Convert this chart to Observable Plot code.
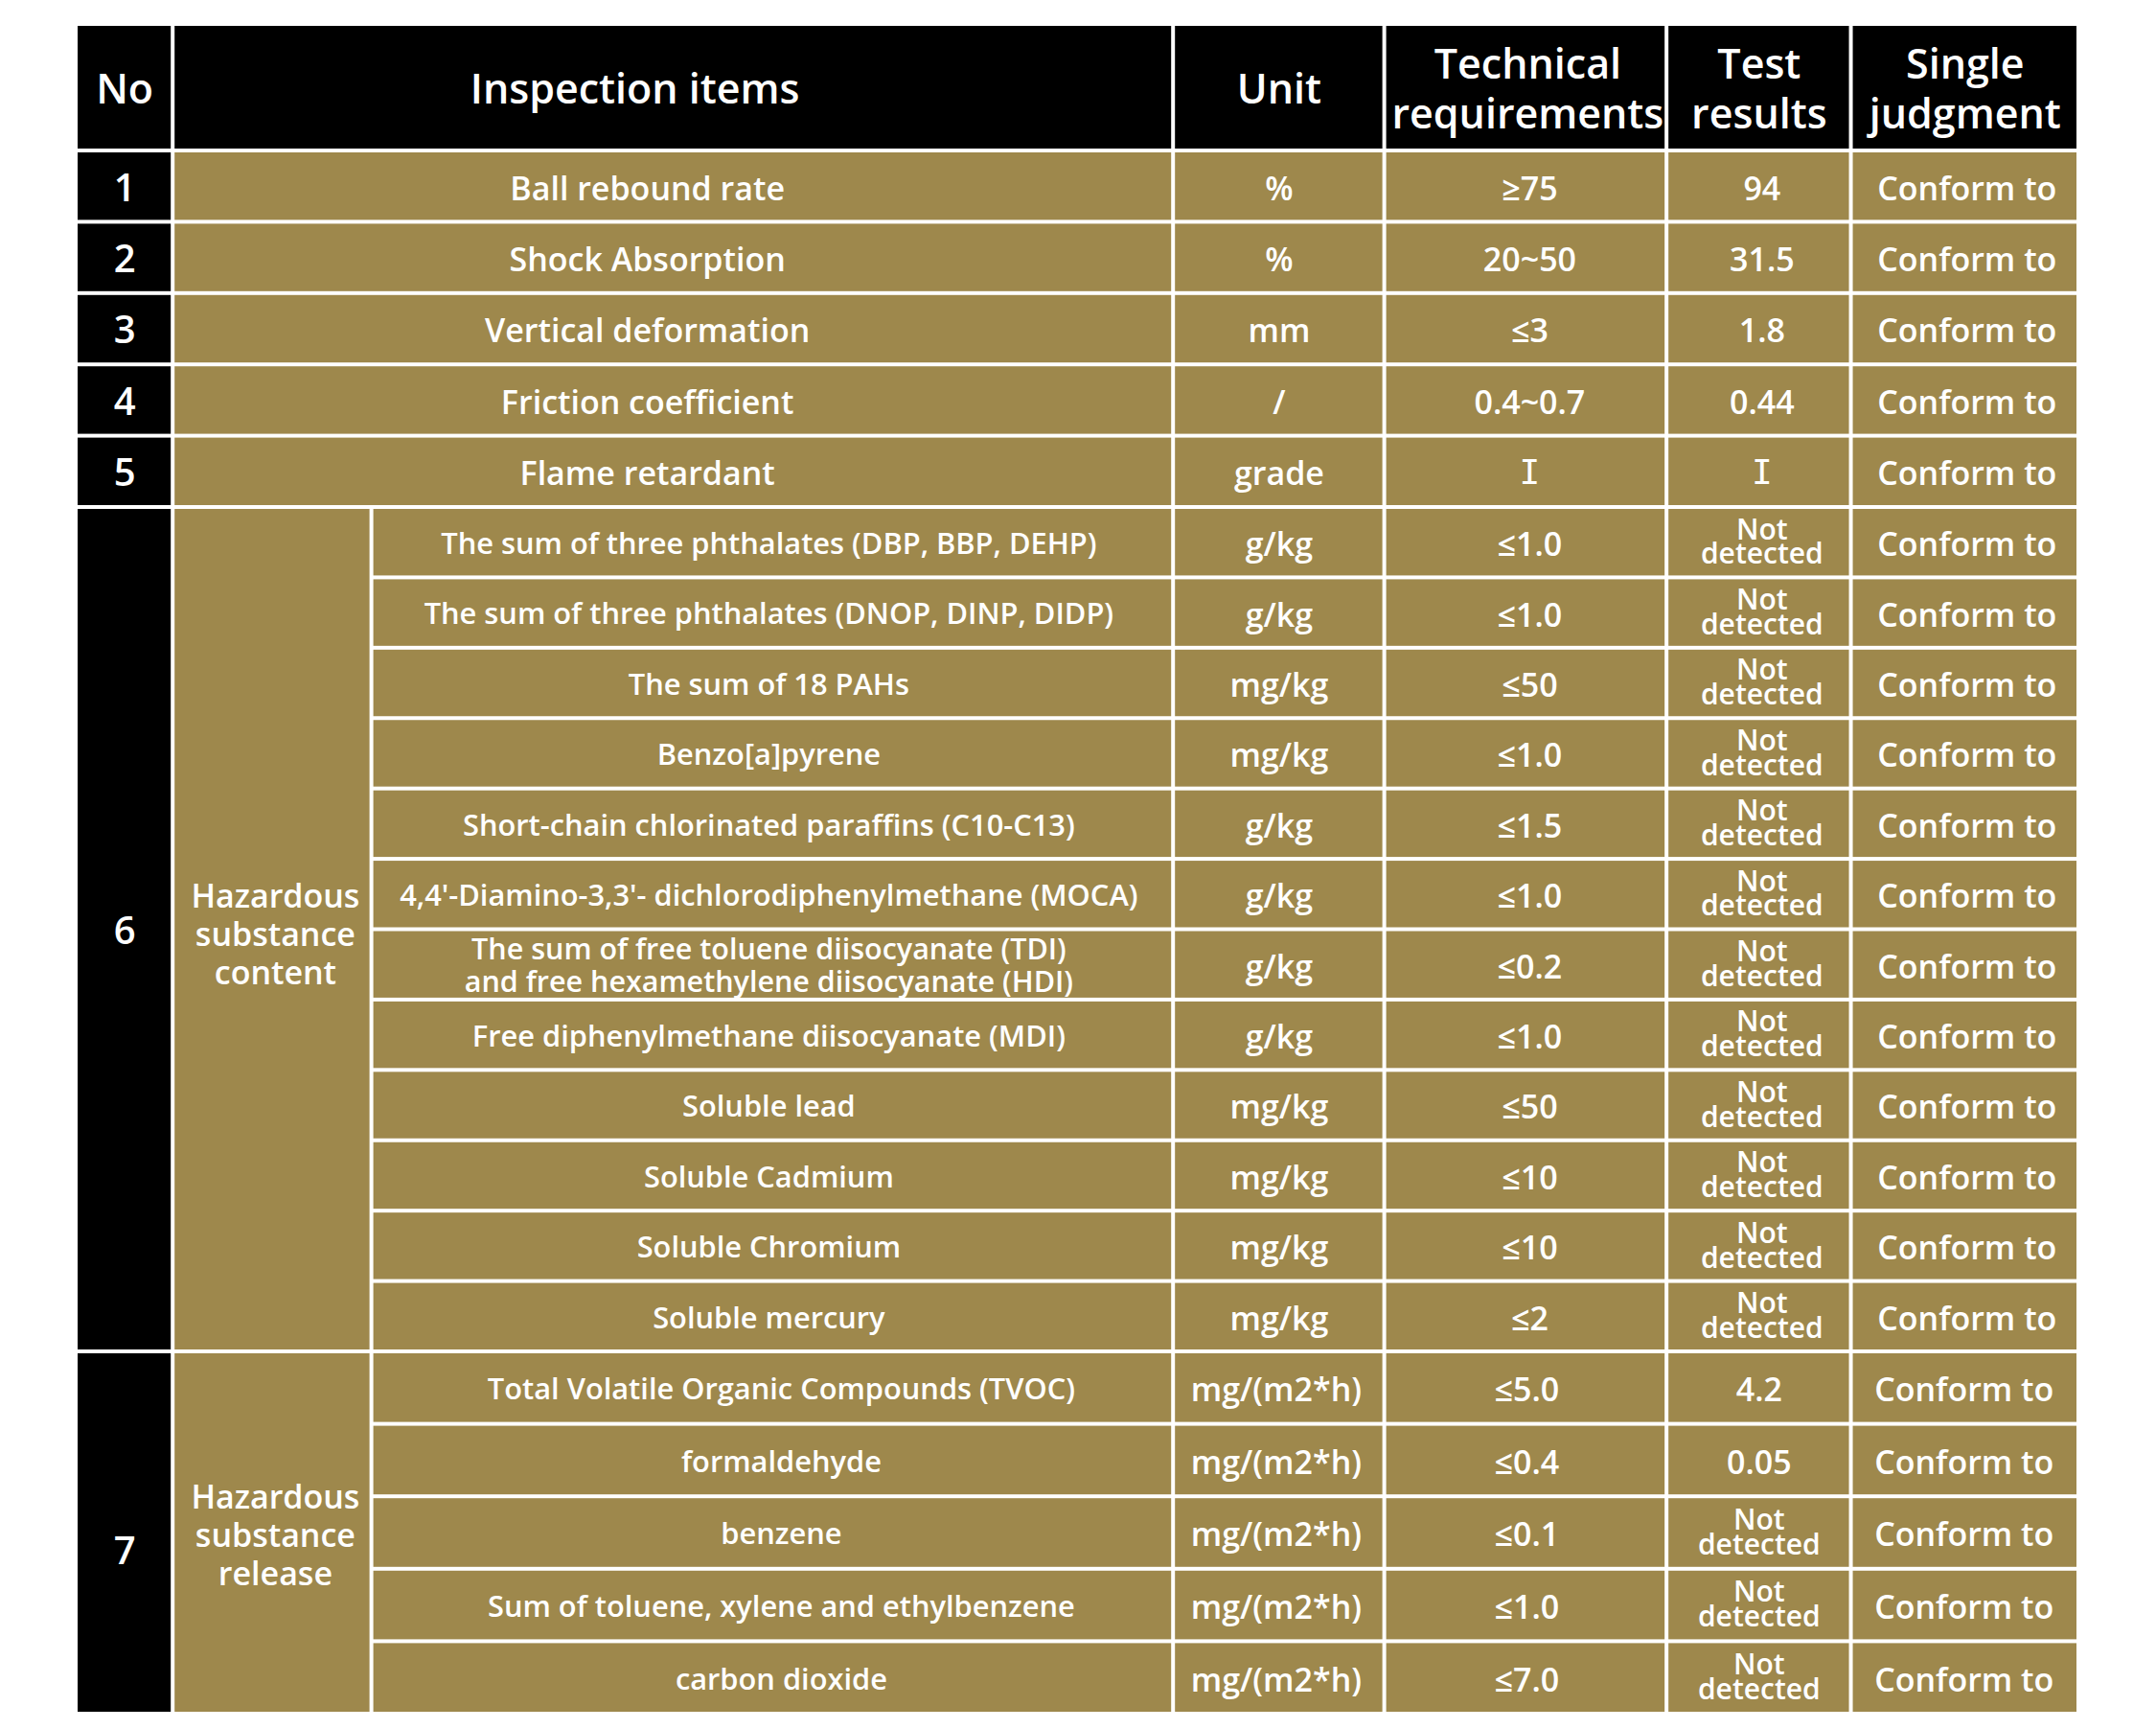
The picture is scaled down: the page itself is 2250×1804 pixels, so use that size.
<!DOCTYPE html>
<html><head><meta charset="utf-8">
<script src="https://cdn.jsdelivr.net/npm/d3@7"></script>
<script src="https://cdn.jsdelivr.net/npm/@observablehq/plot@0.6"></script>
<style>html,body{margin:0;padding:0;background:#fff;} svg{display:block}</style>
</head><body><div id="chart"></div>
<script>
// ---------- data ----------
const headers = ["No", "Inspection items", "Unit", "Technical\nrequirements", "Test\nresults", "Single\njudgment"];
const itemNos = ["1", "2", "3", "4", "5", "6", "7"];
const basicItems = ["Ball rebound rate", "Shock Absorption", "Vertical deformation", "Friction coefficient", "Flame retardant"];
const groupNames = ["Hazardous\nsubstance\ncontent", "Hazardous\nsubstance\nrelease"];
const contentItems = [
  "The sum of three phthalates (DBP, BBP, DEHP)",
  "The sum of three phthalates (DNOP, DINP, DIDP)",
  "The sum of 18 PAHs",
  "Benzo[a]pyrene",
  "Short-chain chlorinated paraffins (C10-C13)",
  "4,4'-Diamino-3,3'- dichlorodiphenylmethane (MOCA)",
  "The sum of free toluene diisocyanate (TDI)\nand free hexamethylene diisocyanate (HDI)",
  "Free diphenylmethane diisocyanate (MDI)",
  "Soluble lead",
  "Soluble Cadmium",
  "Soluble Chromium",
  "Soluble mercury"
];
const releaseItems = [
  "Total Volatile Organic Compounds (TVOC)",
  "formaldehyde",
  "benzene",
  "Sum of toluene, xylene and ethylbenzene",
  "carbon dioxide"
];
const units = ["%", "%", "mm", "/", "grade",
  "g/kg", "g/kg", "mg/kg", "mg/kg", "g/kg", "g/kg", "g/kg", "g/kg", "mg/kg", "mg/kg", "mg/kg", "mg/kg",
  "mg/(m2*h)", "mg/(m2*h)", "mg/(m2*h)", "mg/(m2*h)", "mg/(m2*h)"];
const requirements = ["≥75", "20~50", "≤3", "0.4~0.7", "I",
  "≤1.0", "≤1.0", "≤50", "≤1.0", "≤1.5", "≤1.0", "≤0.2", "≤1.0", "≤50", "≤10", "≤10", "≤2",
  "≤5.0", "≤0.4", "≤0.1", "≤1.0", "≤7.0"];
const results = ["94", "31.5", "1.8", "0.44", "I",
  "Not\ndetected", "Not\ndetected", "Not\ndetected", "Not\ndetected", "Not\ndetected", "Not\ndetected",
  "Not\ndetected", "Not\ndetected", "Not\ndetected", "Not\ndetected", "Not\ndetected", "Not\ndetected",
  "4.2", "0.05", "Not\ndetected", "Not\ndetected", "Not\ndetected"];
const judgments = ["Conform to", "Conform to", "Conform to", "Conform to", "Conform to",
  "Conform to", "Conform to", "Conform to", "Conform to", "Conform to", "Conform to",
  "Conform to", "Conform to", "Conform to", "Conform to", "Conform to", "Conform to",
  "Conform to", "Conform to", "Conform to", "Conform to", "Conform to"];

// ---------- layout (relative widths, row knots) ----------
const colW = [101, 207, 835, 220, 294, 192, 237];
const edges = [0]; colW.forEach(w => edges.push(edges[edges.length - 1] + w));
const BLACK = "#000000", GOLD = "#9e884c";

const cells = [];
const labels = [];
function addCell(c0, c1, r0, r1, fill, text, kind, dx = 0, dy = 0) {
  cells.push({x1: edges[c0], x2: edges[c1], y1: r0, y2: r1, fill});
  if (text != null) labels.push({x: (edges[c0] + edges[c1]) / 2 + dx, y: (r0 + r1) / 2, text, kind, dy});
}
// header
addCell(0, 1, 0, 1, BLACK, headers[0], "head");
addCell(1, 3, 0, 1, BLACK, headers[1], "head", -40);
for (let k = 2; k < 6; k++) addCell(k + 1, k + 2, 0, 1, BLACK, headers[k], "head", k === 3 ? 2 : 0);

function valueCells(i, r, shift = 0) {
  addCell(3, 4, r, r + 1, GOLD, units[i], "body", shift);
  const req = requirements[i];
  addCell(4, 5, r, r + 1, GOLD, req, req === "I" ? "roman" : "body", 4 + shift);
  const res = results[i];
  addCell(5, 6, r, r + 1, GOLD, res, res.includes("\n") ? "nd" : res === "I" ? "roman" : "body", 3 + shift);
  addCell(6, 7, r, r + 1, GOLD, judgments[i], "body", 2 + shift);
}
// basic rows
basicItems.forEach((name, j) => {
  const r = j + 1;
  addCell(0, 1, r, r + 1, BLACK, itemNos[j], "no");
  addCell(1, 3, r, r + 1, GOLD, name, "body", -27);
  valueCells(j, r);
});
// group 6
let r0 = 6;
addCell(0, 1, r0, r0 + contentItems.length, BLACK, itemNos[5], "no");
addCell(1, 2, r0, r0 + contentItems.length, GOLD, groupNames[0], "group", 3, 4);
contentItems.forEach((name, j) => {
  const r = r0 + j;
  addCell(2, 3, r, r + 1, GOLD, name, name.includes("\n") ? "sub2" : "sub", -4);
  valueCells(5 + j, r);
});
// group 7
r0 = 6 + contentItems.length;
addCell(0, 1, r0, r0 + releaseItems.length, BLACK, itemNos[6], "no", 0, 18);
addCell(1, 2, r0, r0 + releaseItems.length, GOLD, groupNames[1], "group", 3, 2);
releaseItems.forEach((name, j) => {
  const r = r0 + j;
  addCell(2, 3, r, r + 1, GOLD, name, "sub", 9);
  valueCells(5 + contentItems.length + j, r, -3);
});

const styles = {
  head:  {fontSize: 43, lineHeight: 1.2, dy: 0},
  no:    {fontSize: 40, lineHeight: 1, dy: 2},
  body:  {fontSize: 34, lineHeight: 1, dy: 3},
  sub:   {fontSize: 30.8, lineHeight: 1, dy: 2},
  sub2:  {fontSize: 30.5, lineHeight: 1.12, dy: 0},
  nd:    {fontSize: 30, lineHeight: 0.86, dy: 1},
  group: {fontSize: 34, lineHeight: 1.18, dy: 0},
  roman: {fontSize: 36, lineHeight: 1, dy: 1, fontFamily: "'DejaVu Sans Mono', monospace", fontWeight: 400}
};

const textMarks = Object.entries(styles).map(([kind, s]) =>
  Plot.text(labels.filter(d => d.kind === kind), {
    x: "x", y: "y", text: "text",
    fill: "#ffffff", fontSize: s.fontSize, lineHeight: s.lineHeight,
    dy: s.dy,
    fontWeight: s.fontWeight ?? 600, textAnchor: "middle",
    ...(s.fontFamily ? {fontFamily: s.fontFamily} : {}),
    render(index, scales, values, dims, ctx, next) {
      const g = next(index, scales, values, dims, ctx);
      const data = labels.filter(d => d.kind === kind);
      d3.select(g).selectAll("text").each(function (_, k) {
        const extra = data[index[k]] ? data[index[k]].dy : 0;
        if (extra) {
          const t = d3.select(this);
          const tr = t.attr("transform") || "";
          t.attr("transform", tr + ` translate(0,${extra})`);
        }
      });
      return g;
    }
  })
);

const chart = Plot.plot({
  width: 2250, height: 1804,
  marginTop: 0, marginBottom: 0, marginLeft: 0, marginRight: 0,
  x: {type: "linear", domain: [0, edges[edges.length - 1]], range: [79, 2169], axis: null},
  y: {type: "linear", domain: [0, 1, 6, 18, 23], range: [25, 157, 529, 1410, 1788], axis: null},
  style: {fontFamily: "'Open Sans', 'Noto Sans', sans-serif", background: "#ffffff"},
  marks: [
    Plot.rect(cells, {x1: "x1", x2: "x2", y1: "y1", y2: "y2", fill: "fill", inset: 2}),
    ...textMarks
  ]
});
document.getElementById("chart").appendChild(chart);
</script>
</body></html>
